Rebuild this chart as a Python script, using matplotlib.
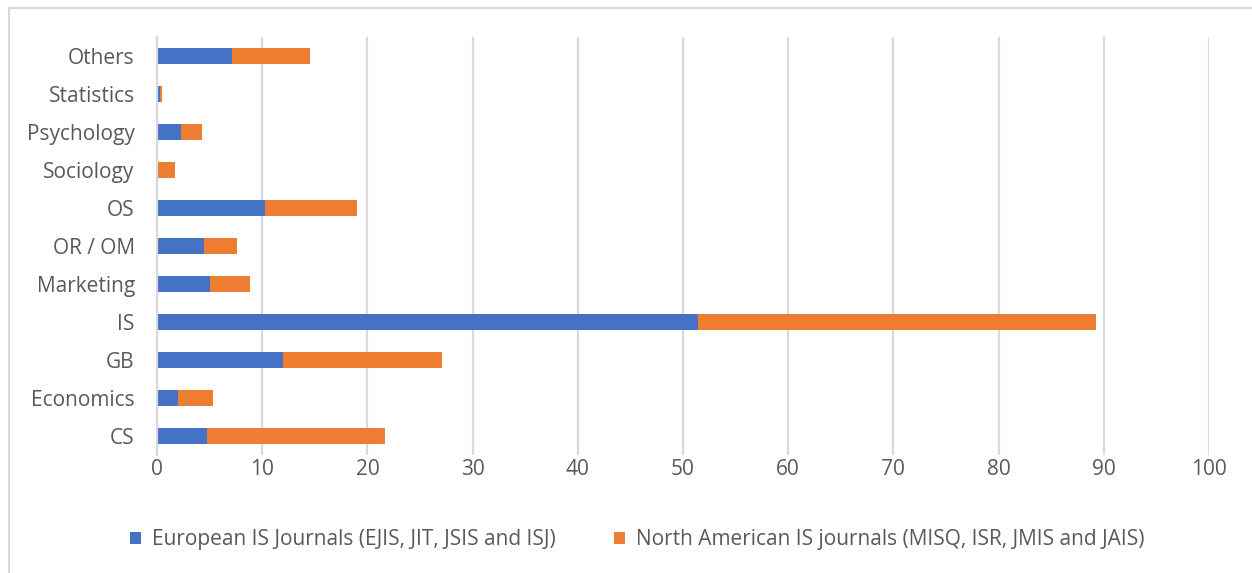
import matplotlib.pyplot as plt
from matplotlib.lines import Line2D

plt.rcParams['font.family'] = ['Open Sans', 'DejaVu Sans']

categories = ['CS', 'Economics', 'GB', 'IS', 'Marketing', 'OR / OM', 'OS',
              'Sociology', 'Psychology', 'Statistics', 'Others']
european = [4.8, 2.0, 12.0, 51.4, 5.0, 4.5, 10.3, 0.0, 2.3, 0.3, 7.1]
north_american = [16.9, 3.3, 15.1, 37.9, 3.8, 3.1, 8.7, 1.7, 2.0, 0.2, 7.4]
x_ticks = [0, 10, 20, 30, 40, 50, 60, 70, 80, 90, 100]

series_names = ['European IS Journals (EJIS, JIT, JSIS and ISJ)',
                'North American IS journals (MISQ, ISR, JMIS and JAIS)']
blue = '#4472C4'
orange = '#ED7D31'
text_color = '#595959'
grid_color = '#D9D9D9'
fs = 15

W, H = 1252, 573
fig = plt.figure(figsize=(W / 100, H / 100), dpi=100)
ax = fig.add_axes([157 / W, 1 - 455 / H, (1209 - 157) / W, (455 - 37) / H])

ypos = list(range(len(categories)))
ax.barh(ypos, european, height=0.4, color=blue, label=series_names[0])
ax.barh(ypos, north_american, left=european, height=0.4, color=orange,
        label=series_names[1])

ax.set_xlim(0, 100)
ax.set_ylim(-0.5, len(categories) - 0.5)
ax.set_xticks(x_ticks)
ax.set_yticks(ypos)
ax.set_yticklabels(categories)
ax.tick_params(axis='both', length=0, labelsize=fs, colors=text_color)
ax.tick_params(axis='x', pad=3)
ax.tick_params(axis='y', pad=16)
ax.xaxis.grid(True, color=grid_color, linewidth=1.6)
ax.set_axisbelow(True)
for side in ['top', 'right', 'bottom']:
    ax.spines[side].set_visible(False)
ax.spines['left'].set_color(grid_color)
ax.spines['left'].set_linewidth(1.6)

handles, labels = ax.get_legend_handles_labels()
fig.legend(handles, labels, loc='center', bbox_to_anchor=(637 / W, 1 - 540 / H),
           ncol=2, frameon=False, fontsize=fs, labelcolor=text_color,
           handlelength=0.55, handleheight=0.55, handletextpad=0.5,
           columnspacing=2.8)

# chart frame edges
fig.add_artist(Line2D([9 / W, 9 / W], [0, 1 - 8 / H], transform=fig.transFigure,
                      color=grid_color, linewidth=1.5))
fig.add_artist(Line2D([9 / W, 1], [1 - 8 / H, 1 - 8 / H], transform=fig.transFigure,
                      color=grid_color, linewidth=1.5))

fig.savefig('out.png', dpi=100)
